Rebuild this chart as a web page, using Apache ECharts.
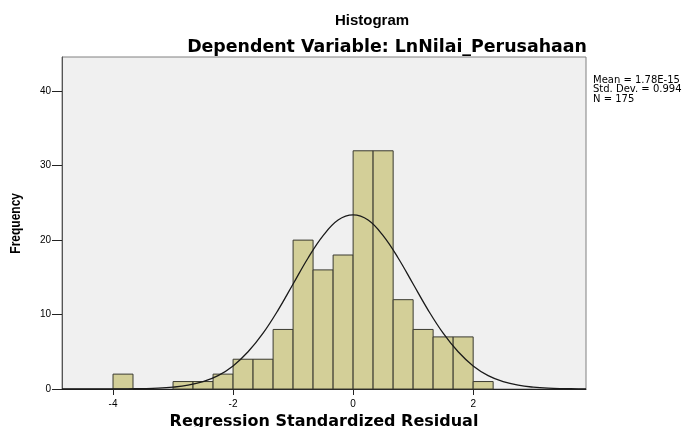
<!DOCTYPE html>
<html>
<head>
<meta charset="utf-8">
<script src="https://cdn.jsdelivr.net/npm/echarts@6/dist/echarts.min.js"></script>
<style>
html, body { margin: 0; padding: 0; background: #fff; }
#chart { width: 699px; height: 427px; }
</style>
</head>
<body>
<div id="chart"></div>
<script>
// histogram bins (left edge, right edge) and counts
var binLow = [-4.000, -3.667, -3.333, -3.000, -2.667, -2.333, -2.000, -1.667, -1.333, -1.000, -0.667, -0.333, 0.000, 0.333, 0.667, 1.000, 1.333, 1.667, 2.000];
var binHigh = [-3.667, -3.333, -3.000, -2.667, -2.333, -2.000, -1.667, -1.333, -1.000, -0.667, -0.333, 0.000, 0.333, 0.667, 1.000, 1.333, 1.667, 2.000, 2.333];
var counts = [2, 0, 0, 1, 1, 2, 4, 4, 8, 20, 16, 18, 32, 32, 12, 8, 7, 7, 1];

// normal curve
var curveX = [-4.85, -4.5, -4.25, -4, -3.75, -3.5, -3.25, -3, -2.75, -2.5, -2.25, -2, -1.75, -1.5, -1.25, -1, -0.75, -0.5, -0.25, 0,
	0.25, 0.5, 0.75, 1, 1.25, 1.5, 1.75, 2, 2.25, 2.5, 2.75, 3, 3.25, 3.5, 3.75, 3.88];
var curveY = [0, 0, 0, 0.01, 0.02, 0.05, 0.11, 0.25, 0.51, 0.99, 1.8, 3.1, 5.0, 7.5, 10.6, 14.1, 17.6, 20.6, 22.7, 23.4,
	22.7, 20.6, 17.6, 14.1, 10.6, 7.5, 5.0, 3.1, 1.8, 0.99, 0.51, 0.25, 0.11, 0.05, 0.02, 0.01];

var xTicks = [-4, -2, 0, 2];
var yTicks = [0, 10, 20, 30, 40];
var statsLines = ['Mean = 1.78E-15', 'Std. Dev. = 0.994', 'N = 175'];

var barData = [];
for (var i = 0; i < counts.length; i++) {
	barData.push([binLow[i], binHigh[i], counts[i]]);
}
var lineData = [];
for (var j = 0; j < curveX.length; j++) {
	lineData.push([curveX[j], curveY[j]]);
}

var font = '"Liberation Sans", Arial, sans-serif';
var wide = '"DejaVu Sans", sans-serif';

var chart = echarts.init(document.getElementById('chart'));
chart.setOption({
	animation: false,
	title: [{
		text: 'Histogram',
		left: 367,
		top: 8,
		textAlign: 'center',
		textStyle: { fontFamily: font, fontSize: 15, fontWeight: 'bold', color: '#000' }
	}, {
		text: 'Dependent Variable: LnNilai_Perusahaan',
		left: 382,
		top: 34,
		textAlign: 'center',
		textStyle: { fontFamily: wide, fontSize: 17.4, fontWeight: 'bold', color: '#000' }
	}],
	graphic: [{
		type: 'text',
		left: 593,
		top: 75,
		style: {
			text: statsLines.join('\n'),
			font: '10px ' + wide,
			lineHeight: 9.5,
			fill: '#000'
		}
	}, {
		type: 'text',
		left: 8,
		top: 193,
		rotation: Math.PI / 2,
		scaleX: 0.8,
		style: {
			text: 'Frequency',
			font: 'bold 15px ' + font,
			fill: '#000'
		}
	}],
	grid: {
		left: 62,
		right: 113,
		top: 57,
		bottom: 38,
		outerBoundsMode: 'none',
		show: true,
		backgroundColor: '#f0f0f0',
		borderColor: '#808080',
		borderWidth: 1
	},
	xAxis: {
		type: 'value',
		min: -4.85,
		max: 3.88,
		name: 'Regression Standardized Residual',
		nameLocation: 'middle',
		nameGap: 21,
		nameTextStyle: { fontFamily: wide, fontSize: 16, fontWeight: 'bold', color: '#000' },
		axisLine: { show: true, onZero: false, lineStyle: { color: '#222', width: 1 } },
		axisTick: { show: true, length: 6, customValues: xTicks, lineStyle: { color: '#222' } },
		axisLabel: { customValues: xTicks, fontFamily: font, fontSize: 10, color: '#000', margin: 10 },
		splitLine: { show: false }
	},
	yAxis: {
		type: 'value',
		min: 0,
		max: 44.6,
		axisLine: { show: true, onZero: false, lineStyle: { color: '#555', width: 1 } },
		axisTick: { show: true, length: 10, customValues: yTicks, lineStyle: { color: '#222' } },
		axisLabel: { customValues: yTicks, fontFamily: font, fontSize: 10, color: '#000', margin: 11 },
		splitLine: { show: false }
	},
	series: [{
		type: 'custom',
		data: barData,
		encode: { x: [0, 1], y: 2 },
		renderItem: function(params, api) {
			var p0 = api.coord([api.value(0), api.value(2)]);
			var p1 = api.coord([api.value(1), 0]);
			if (api.value(2) <= 0) return null;
			return {
				type: 'rect',
				shape: { x: p0[0], y: p0[1], width: p1[0] - p0[0], height: p1[1] - p0[1] },
				style: { fill: '#d3cf98', stroke: '#3a3a30', lineWidth: 1 }
			};
		},
		z: 2
	}, {
		type: 'line',
		data: lineData,
		smooth: 0.4,
		showSymbol: false,
		lineStyle: { color: '#1a1a1a', width: 1.3 },
		z: 3
	}]
});
</script>
</body>
</html>
